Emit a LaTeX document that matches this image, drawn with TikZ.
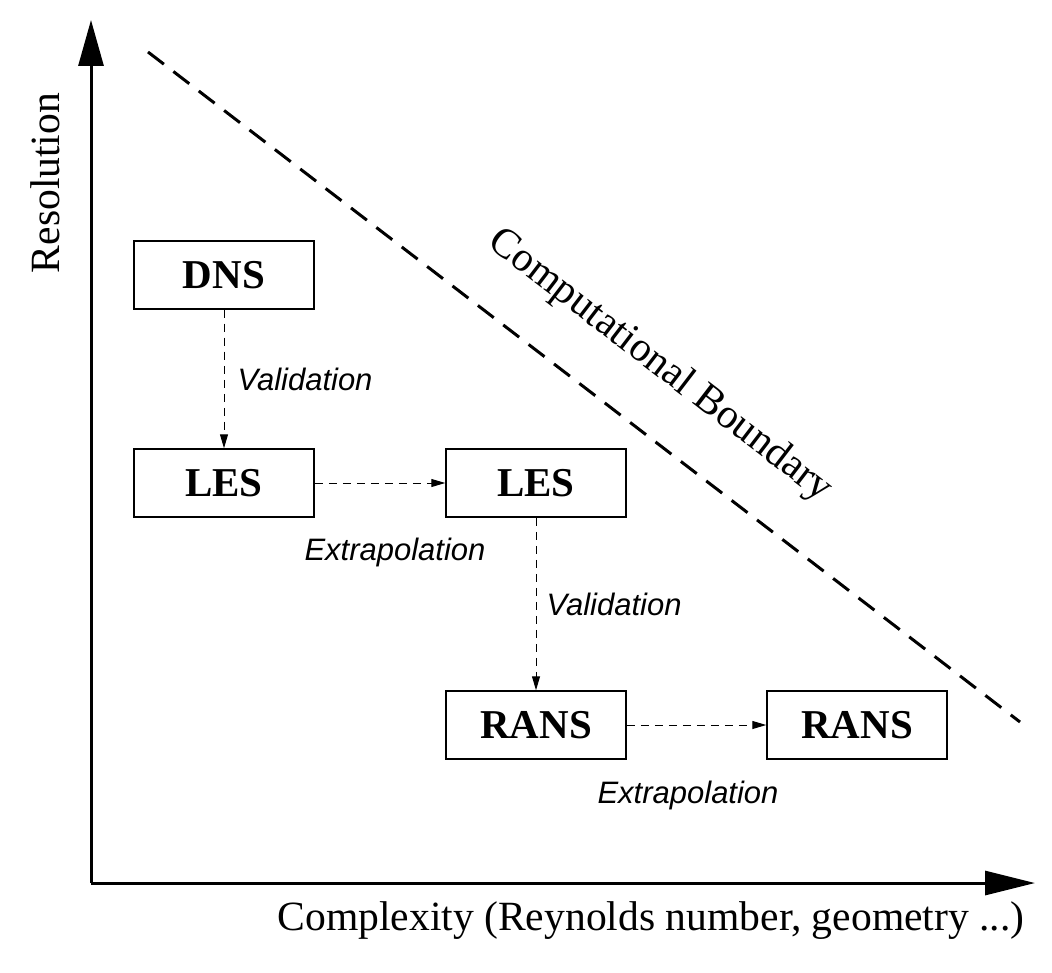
\documentclass[tikz,border=0pt]{standalone}
\usepackage{fontspec}
\setmainfont{Liberation Serif}
\setsansfont{Liberation Sans}
\usetikzlibrary{arrows.meta}
\tikzset{
	model/.style={draw,line width=0.75pt,minimum width=90pt,minimum height=34pt,inner sep=0pt,font=\fontsize{20.5}{24}\selectfont\bfseries},
	link/.style={line width=0.5pt,dash pattern=on 4pt off 3pt,-{Triangle[length=7pt,width=4pt]}},
	lbl/.style={font=\fontsize{15.5}{18}\selectfont\sffamily\itshape,inner sep=0pt},
	axlbl/.style={font=\fontsize{20.8}{24}\selectfont,inner sep=0pt}
}
\begin{document}
\begin{tikzpicture}[x=0.5pt,y=-0.5pt]
		\useasboundingbox (0,0) rectangle (1052,972);
		% axes
		\coordinate (O) at (91,883);
		\coordinate (ytop) at (91,20);
		\coordinate (xend) at (1035,883);
		\draw[line width=1.5pt,-{Triangle[length=23pt,width=12.5pt]}] (O)--(ytop);
		\draw[line width=1.5pt,-{Triangle[length=25pt,width=12pt]}] (O)--(xend);
		\node[axlbl,rotate=90] (res) at (45,183) {Resolution};
		\node[axlbl] (cpx) at (651,921) {Complexity (Reynolds number, geometry ...)};
		% computational boundary
		\coordinate (b1) at (148,52);
		\coordinate (b2) at (1020,722);
		\draw[line width=1.5pt,dash pattern=on 10pt off 6pt] (b1)--(b2);
		\node[axlbl,rotate=-37.5] (cb) at (660,366) {Computational Boundary};
		% models
		\node[model] (dns) at (224,275) {DNS};
		\node[model] (les1) at (224,483) {LES};
		\node[model] (les2) at (536,483) {LES};
		\node[model] (rans1) at (536,725) {RANS};
		\node[model] (rans2) at (857,725) {RANS};
		% connectors
		\draw[link] (dns)--(les1) node[midway,right=6.5pt,lbl]{Validation};
		\draw[link] (les1)--(les2);
		\draw[link] (les2)--(rans1) node[midway,right=5pt,lbl]{Validation};
		\draw[link] (rans1)--(rans2);
		\node[lbl] (ext1) at (395,552) {Extrapolation};
		\node[lbl] (ext2) at (688,795) {Extrapolation};
		\end{tikzpicture}
\end{document}
